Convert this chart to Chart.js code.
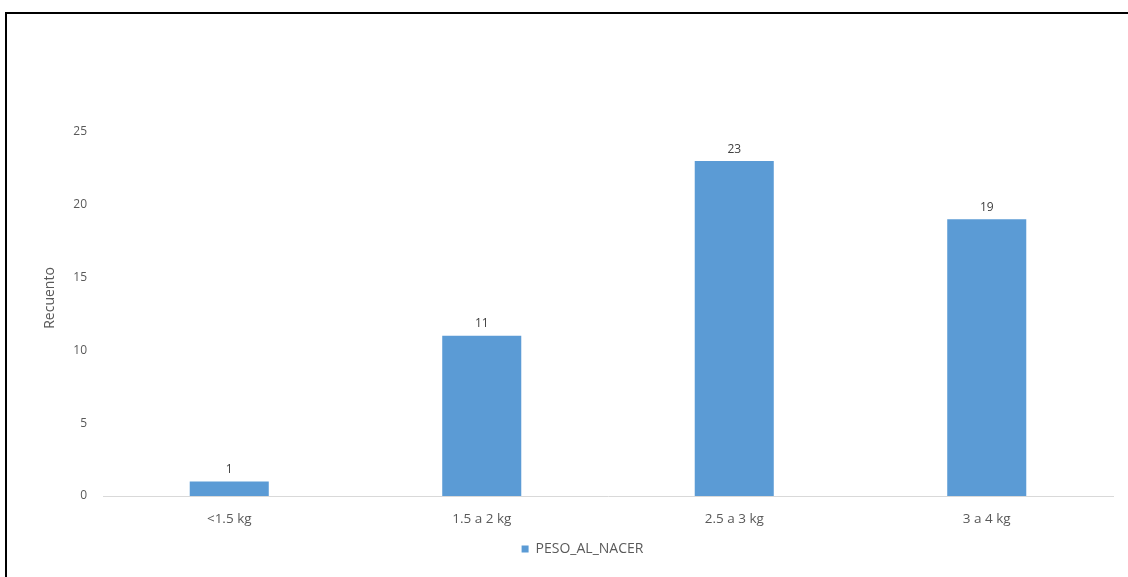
<!DOCTYPE html>
<html>
<head>
<meta charset="utf-8">
<script src="https://cdn.jsdelivr.net/npm/chart.js@4/dist/chart.umd.min.js"></script>
<style>
  html, body { margin: 0; padding: 0; background: #fff; }
  #wrap { position: relative; width: 1128px; height: 577px; overflow: hidden; }
  #frame { position: absolute; left: 5px; top: 12px; width: 1300px; height: 700px; border: 2px solid #000; }
  #myChart { position: absolute; left: 0; top: 0; }
</style>
</head>
<body>
<div id="wrap">
  <div id="frame"></div>
  <canvas id="myChart" width="1128" height="577"></canvas>
</div>
<script>
var categorias = ['<1.5 kg', '1.5 a 2 kg', '2.5 a 3 kg', '3 a 4 kg'];
var recuento = [1, 11, 23, 19];
var ticksY = [0, 5, 10, 15, 20, 25];

var fuente = "'Open Sans', 'Noto Sans', sans-serif";
var gris = '#595959';

// numbers over each bar + vertical axis title
var etiquetas = {
    id: 'etiquetas',
    afterLayout: function(chart) {
        // legend sits a bit right of the canvas centre
        chart.legend.left += 26;
        chart.legend.right += 26;
    },
    afterDatasetsDraw: function(chart) {
        var ctx = chart.ctx;
        var meta = chart.getDatasetMeta(0);
        ctx.save();
        ctx.font = '12px ' + fuente;
        ctx.fillStyle = '#404040';
        ctx.textAlign = 'center';
        ctx.textBaseline = 'bottom';
        meta.data.forEach(function(bar, i) {
            ctx.fillText(chart.data.datasets[0].data[i], bar.x, bar.y - 6);
        });
        ctx.restore();

        var area = chart.chartArea;
        ctx.save();
        ctx.font = '14px ' + fuente;
        ctx.fillStyle = gris;
        ctx.textAlign = 'center';
        ctx.textBaseline = 'middle';
        ctx.translate(50, (area.top + area.bottom) / 2 - 16);
        ctx.rotate(-Math.PI / 2);
        ctx.fillText('Recuento', 0, 0);
        ctx.restore();
    }
};

const ctx = document.getElementById('myChart').getContext('2d');
const myChart = new Chart(ctx, {
    type: 'bar',
    data: {
        labels: categorias,
        datasets: [{
            label: 'PESO_AL_NACER',
            data: recuento,
            backgroundColor: '#5B9BD5',
            borderWidth: 0,
            categoryPercentage: 1,
            barPercentage: 0.313
        }]
    },
    options: {
        responsive: false,
        animation: false,
        layout: {
            padding: { top: 132, left: 0, right: 15, bottom: 11 }
        },
        scales: {
            y: {
                min: 0,
                max: 25,
                afterBuildTicks: function(scale) {
                    scale.ticks = ticksY.map(function(v) { return { value: v }; });
                },
                afterFit: function(scale) { scale.width = 103; },
                grid: { display: false },
                border: { display: false },
                ticks: {
                    color: gris,
                    padding: 8,
                    font: { family: fuente, size: 12 }
                }
            },
            x: {
                grid: { display: false },
                border: { display: true, color: '#d9d9d9', width: 1 },
                afterFit: function(scale) { scale.height = 36; },
                ticks: {
                    color: gris,
                    padding: 7,
                    font: { family: fuente, size: 13.5 }
                }
            }
        },
        plugins: {
            legend: {
                position: 'bottom',
                labels: {
                    color: gris,
                    boxWidth: 7,
                    boxHeight: 7,
                    padding: 10,
                    font: { family: fuente, size: 14 }
                }
            },
            tooltip: { enabled: false }
        }
    },
    plugins: [etiquetas]
});
</script>
</body>
</html>
